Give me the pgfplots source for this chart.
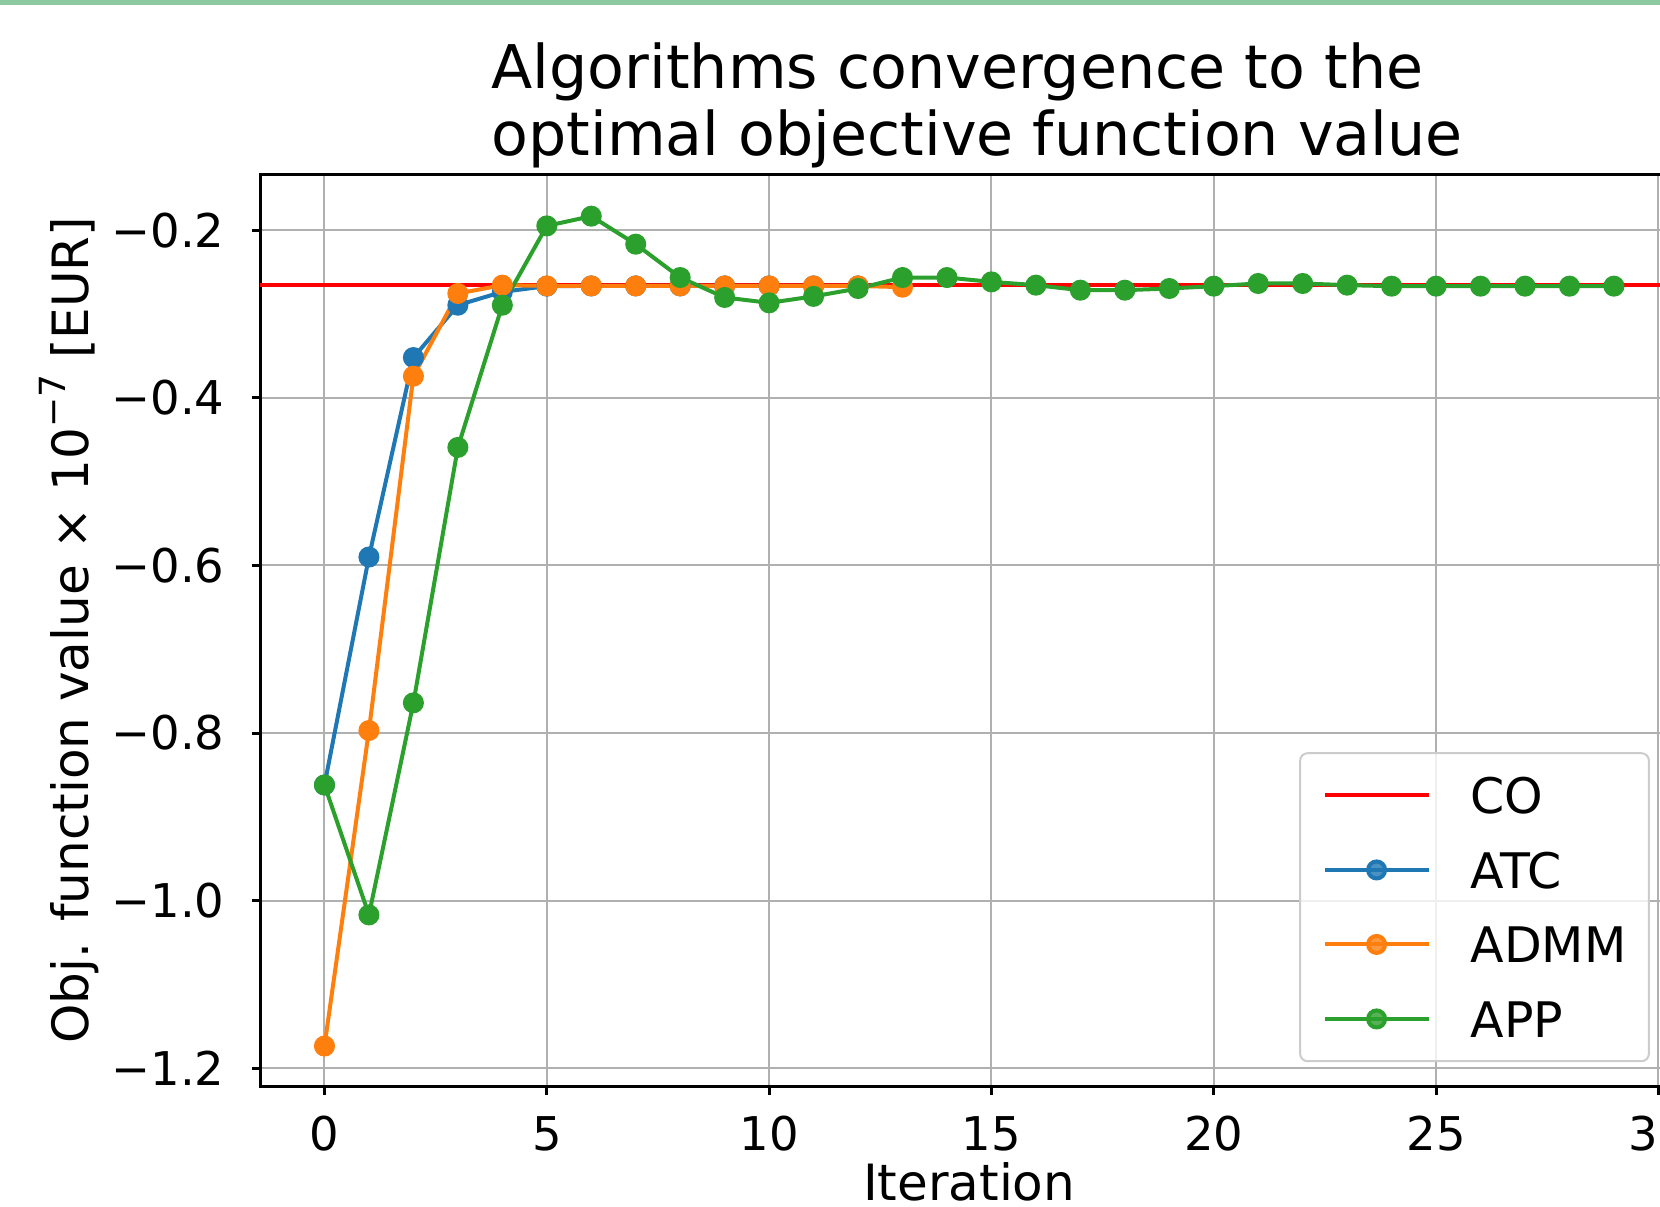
\documentclass[border=0pt]{standalone}
\usepackage{fontspec}
\setmainfont{DejaVu Sans}
\usepackage{pgfplots}
\pgfplotsset{compat=1.18}
\definecolor{mplblue}{HTML}{1F77B4}
\definecolor{mplorange}{HTML}{FF7F0E}
\definecolor{mplgreen}{HTML}{2CA02C}
\definecolor{topband}{HTML}{8CC8A0}

\begin{document}
\begin{tikzpicture}
\pgfplotsset{every axis title shift=0pt}
\begin{axis}[
    at={(52pt,23.86pt)}, anchor=south west,
    scale only axis,
    width=283.68pt, height=182.5pt,
    xmin=-1.45, xmax=30.45,
    ymin=-1.222, ymax=-0.1332,
    xtick={0,5,10,15,20,25,30},
    xticklabels={0,5,10,15,20,25,30},
    ytick={-1.2,-1.0,-0.8,-0.6,-0.4,-0.2},
    yticklabels={−1.2,−1.0,−0.8,−0.6,−0.4,−0.2},
    tick pos=left, tick align=outside,
    major tick length=1.7pt,
    tick style={line width=0.6pt, black},
    axis line style={line width=0.6pt},
    grid=major,
    major grid style={line width=0.4pt, black!31},
    ticklabel style={font=\fontsize{9.3}{9.3}\selectfont, inner sep=0pt},
    xticklabel style={anchor=base, yshift=-11.1pt},
    yticklabel style={anchor=east, xshift=-5.2pt},
    title={Algorithms convergence to the\\optimal objective function value},
    title style={at={(rel axis cs:0.5,1)}, anchor=south, inner sep=0pt,
        xshift=1.6pt, yshift=1pt,
        align=left, font=\fontsize{12.05}{13.4}\selectfont},
    xlabel={Iteration},
    xlabel style={at={(rel axis cs:0.5,0)}, anchor=base, yshift=-22.8pt,
        inner sep=0pt, font=\fontsize{10}{10}\selectfont},
    ylabel={Obj. function value × 10\raisebox{0.85ex}{\fontsize{7.2}{7.2}\selectfont −7} [EUR]},
    ylabel style={at={(rel axis cs:-0.1209,0.5)}, anchor=base,
        inner sep=0pt, font=\fontsize{10}{10}\selectfont},
    legend style={at={(rel axis cs:1,0)}, anchor=south east,
        xshift=-5.7pt, yshift=4.9pt,
        draw=black!20, line width=0.4pt, rounded corners=1.5pt,
        fill=white, fill opacity=0.8, text opacity=1,
        font=\fontsize{9.8}{9.8}\selectfont,
        inner xsep=4.5pt, inner ysep=4.8pt,
        row sep=7.6pt, column sep=8pt,
        nodes={inner sep=0pt, text height=7.3pt, text depth=0pt}},
    legend cell align=left,
    legend image code/.code={
        \draw[mark repeat=2, mark phase=2] plot coordinates {(0pt,0pt) (10.4pt,0pt) (20.8pt,0pt)};
    },
    every axis plot/.append style={line width=0.8pt},
]
% centralized optimum
\addplot[red, no marks] coordinates {(-1.45,-0.2658) (30.45,-0.2658)};
\addlegendentry{CO}

\addplot[mplblue, mark=*, mark size=1.7pt] coordinates {
    (0,-0.862) (1,-0.590) (2,-0.352) (3,-0.2895) (4,-0.2736)
    (5,-0.2668) (6,-0.2665) (7,-0.2665) (8,-0.2665) (9,-0.2665)
    (10,-0.2665) (11,-0.2665) (12,-0.2665)
};
\addlegendentry{ATC}

\addplot[mplorange, mark=*, mark size=1.7pt] coordinates {
    (0,-1.1735) (1,-0.797) (2,-0.3742) (3,-0.2755) (4,-0.2656)
    (5,-0.2665) (6,-0.2665) (7,-0.2665) (8,-0.2665) (9,-0.2665)
    (10,-0.2665) (11,-0.2665) (12,-0.2665) (13,-0.268)
};
\addlegendentry{ADMM}

\addplot[mplgreen, mark=*, mark size=1.7pt] coordinates {
    (0,-0.862) (1,-1.017) (2,-0.764) (3,-0.4592) (4,-0.2895)
    (5,-0.1949) (6,-0.1833) (7,-0.2167) (8,-0.2565) (9,-0.2803)
    (10,-0.2867) (11,-0.2790) (12,-0.2696) (13,-0.2565) (14,-0.2565)
    (15,-0.2617) (16,-0.2656) (17,-0.2716) (18,-0.2716) (19,-0.2696)
    (20,-0.2668) (21,-0.2636) (22,-0.2636) (23,-0.2656) (24,-0.2668)
    (25,-0.2668) (26,-0.2668) (27,-0.2668) (28,-0.2668) (29,-0.2668)
};
\addlegendentry{APP}
\end{axis}
\pgfresetboundingbox
\useasboundingbox (0,0) rectangle (332pt,241.2pt);
\fill[topband] (0,240.2pt) rectangle (332pt,241.2pt);
\end{tikzpicture}
\end{document}
